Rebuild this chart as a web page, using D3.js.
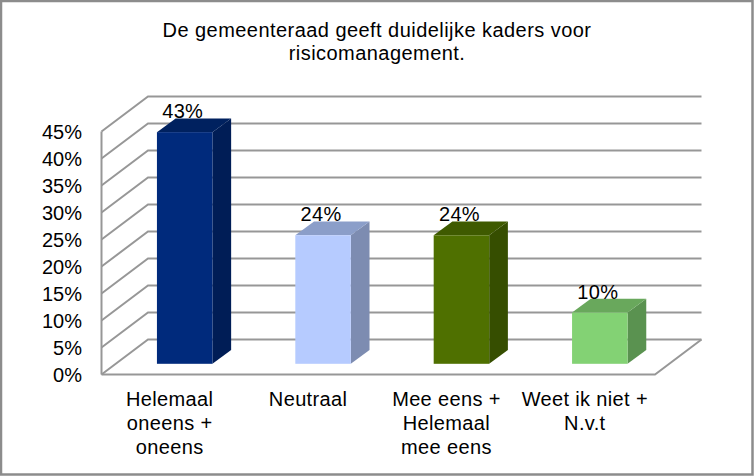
<!DOCTYPE html>
<html><head><meta charset="utf-8">
<script src="https://cdn.jsdelivr.net/npm/d3@7/dist/d3.min.js"></script>
<style>html,body{margin:0;padding:0;background:#fff}svg{display:block}text{font-family:"Liberation Sans",Arial,sans-serif;fill:#000}</style>
</head><body><svg id="c" width="754" height="476"></svg>
<script>
const titleLines = ["De gemeenteraad geeft duidelijke kaders voor", "risicomanagement."];
const categories = [["Helemaal","oneens +","oneens"],["Neutraal"],["Mee eens +","Helemaal","mee eens"],["Weet ik niet +","N.v.t"]];
const values = [42.9, 23.8, 23.8, 9.5];
const valueLabels = ["43%","24%","24%","10%"];
const yTicks = [0,5,10,15,20,25,30,35,40,45];
const frontColors = ["#002a7c","#b6cbff","#4f7000","#83d274"];
const sideColors = ["#001d56","#7d8cb1","#364e00","#5a9250"];
const topColors = ["#00215f","#8b9ec9","#3f5a00","#69a85c"];

const svg = d3.select("#c");
const y = d3.scaleLinear().domain([0,45]).range([374.5,131.5]);
const x = d3.scaleBand().domain(d3.range(categories.length)).range([101.5,655]);
const depth = {x:46.5, y:-35};
const barDepth = {x:18.7, y:-13.7};
const barOff = {x:14, y:-10.7};
const barW = 55.5;
const grid = "#979797";

svg.append("rect").attr("x",1).attr("y",1).attr("width",751.5).attr("height",473.5)
  .attr("fill","#fff").attr("stroke","#8c8c8c").attr("stroke-width",2.5);

const t = svg.append("g").attr("font-size",20).attr("letter-spacing",0.45).attr("text-anchor","middle");
titleLines.forEach((s,i)=>t.append("text").attr("x",377).attr("y",37+i*23).text(s));

// walls and floor
const g = svg.append("g").attr("fill","none").attr("stroke",grid).attr("stroke-width",2);
yTicks.forEach(v=>{
  const p = y(v);
  g.append("polyline").attr("points",[[x.range()[0],p],[x.range()[0]+depth.x,p+depth.y],[x.range()[1]+depth.x,p+depth.y]].join(" "));
});
g.append("line").attr("x1",x.range()[0]).attr("x2",x.range()[0]).attr("y1",y(45)).attr("y2",y(0)).attr("stroke-width",2);
g.append("polyline").attr("stroke-width",2).attr("points",[[x.range()[0],y(0)],[x.range()[1],y(0)],[x.range()[1]+depth.x,y(0)+depth.y]].join(" "));

// bars
values.forEach((v,i)=>{
  const x0 = x(i)+barOff.x+ (x.bandwidth()-barW)/2 ;
  const x1 = x0+barW;
  const yb = y(0)+barOff.y;
  const yt = yb-(y(0)-y(v));
  const d = barDepth;
  const b = svg.append("g");
  b.append("polygon").attr("fill",sideColors[i]).attr("points",[[x1,yt],[x1+d.x,yt+d.y],[x1+d.x,yb+d.y],[x1,yb]].join(" "));
  b.append("polygon").attr("fill",topColors[i]).attr("points",[[x0,yt],[x0+d.x,yt+d.y],[x1+d.x,yt+d.y],[x1,yt]].join(" "));
  b.append("rect").attr("fill",frontColors[i]).attr("x",x0).attr("y",yt).attr("width",barW).attr("height",yb-yt);
  svg.append("text").attr("x",(x0+x1)/2-2).attr("y",yt-14).attr("text-anchor","middle").attr("font-size",20).attr("letter-spacing",0.3).text(valueLabels[i]);
});

// y labels
const yl = svg.append("g").attr("font-size",20).attr("text-anchor","end");
yTicks.forEach(v=>yl.append("text").attr("x",82).attr("y",y(v)+7).text(v+"%"));

// x labels
const xl = svg.append("g").attr("font-size",20).attr("letter-spacing",0.35).attr("text-anchor","middle");
categories.forEach((lines,i)=>{
  lines.forEach((s,j)=>xl.append("text").attr("x",x(i)+x.bandwidth()/2-1).attr("y",406+j*24).text(s));
});
</script></body></html>
